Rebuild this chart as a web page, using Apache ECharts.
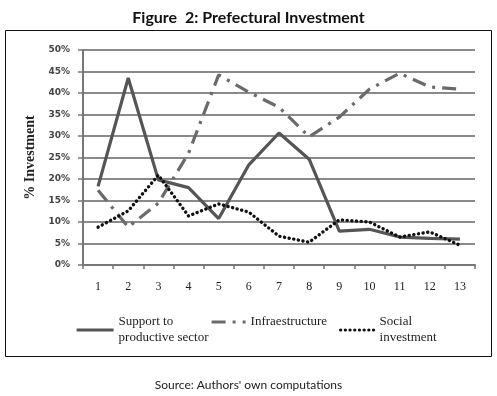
<!DOCTYPE html>
<html><head><meta charset="utf-8">
<script src="https://cdn.jsdelivr.net/npm/echarts@6/dist/echarts.min.js"></script>
<style>html,body{margin:0;padding:0;background:#fff}#c{width:497px;height:396px}</style>
</head><body><div id="c"></div>
<script>
const categories = ['1','2','3','4','5','6','7','8','9','10','11','12','13'];
const supportProductive = [18.3, 43.5, 19.8, 18.0, 10.8, 23.3, 30.7, 24.6, 7.9, 8.3, 6.5, 6.2, 6.0];
const infrastructure = [17.4, 8.8, 14.4, 26.0, 44.2, 40.2, 36.7, 29.8, 34.4, 40.9, 44.6, 41.4, 40.9];
const socialInvestment = [8.8, 12.6, 20.9, 11.4, 14.2, 12.3, 6.7, 5.3, 10.5, 10.0, 6.5, 7.7, 4.6];
const yTicks = [0, 5, 10, 15, 20, 25, 30, 35, 40, 45, 50];
const seriesNames = ['Support to\nproductive sector', 'Infraestructure', 'Social\ninvestment'];

const chart = echarts.init(document.getElementById('c'));
const serif = 'Liberation Serif';
const legendText = {fontFamily: serif, fontSize: 13, color: '#222', lineHeight: 16};
const legendBase = {top: 314, padding: 0, itemHeight: 10, itemStyle: {opacity: 0, borderWidth: 0}, lineStyle: {width: 3.2}, textStyle: legendText};
chart.setOption({
  animation: false,
  title: [{
    text: 'Figure  2: Prefectural Investment', left: 'center', top: 5,
    textStyle: {fontFamily: 'Lato', fontWeight: 'bold', fontSize: 16, color: '#111'}
  }, {
    text: "Source: Authors' own computations", left: 'center', top: 374,
    textStyle: {fontFamily: 'Lato', fontWeight: 'normal', fontSize: 12, color: '#222'}
  }],
  graphic: [{
    type: 'rect', shape: {x: 5.5, y: 30.5, width: 486, height: 326},
    style: {fill: 'none', stroke: '#111', lineWidth: 1}, silent: true
  }],
  grid: {left: 83, right: 22, top: 50, bottom: 131},
  xAxis: {
    type: 'category', data: categories, boundaryGap: true,
    axisLine: {lineStyle: {color: '#777', width: 2}},
    axisTick: {show: true, length: 4, lineStyle: {color: '#777', width: 1.5}},
    axisLabel: {fontFamily: serif, fontSize: 12, color: '#222', margin: 16}
  },
  yAxis: {
    type: 'value', min: 0, max: 50, interval: 5,
    name: '% Investment', nameLocation: 'middle', nameGap: 46, nameRotate: 90,
    nameTextStyle: {fontFamily: serif, fontWeight: 'bold', fontSize: 14, color: '#222'},
    axisLine: {show: true, lineStyle: {color: '#777', width: 2}},
    axisTick: {show: true, length: 5, lineStyle: {color: '#777', width: 1.5}},
    axisLabel: {formatter: v => yTicks.includes(v) ? v + '%' : '', fontFamily: 'DejaVu Sans', fontWeight: 'bold', fontSize: 9, color: '#444', margin: 13},
    splitLine: {lineStyle: {color: '#8a8a8a', width: 2}}
  },
  legend: [
    Object.assign({data: [seriesNames[0]], left: 75, itemWidth: 37}, legendBase),
    Object.assign({data: [seriesNames[1]], left: 210, itemWidth: 34}, legendBase),
    Object.assign({data: [seriesNames[2]], left: 339, itemWidth: 34}, legendBase)
  ],
  series: [{
    name: seriesNames[0], type: 'line', data: supportProductive, symbol: 'none',
    lineStyle: {color: '#555', width: 3.2}, itemStyle: {color: '#555'}
  }, {
    name: seriesNames[1], type: 'line', data: infrastructure, symbol: 'none',
    lineStyle: {color: '#6a6a6a', width: 3.2, type: [14, 7, 3, 7]}, itemStyle: {color: '#6a6a6a'}
  }, {
    name: seriesNames[2], type: 'line', data: socialInvestment, symbol: 'none',
    lineStyle: {color: '#111', width: 3.4, type: [0.1, 4.6], cap: 'round'}, itemStyle: {color: '#111'}
  }]
});
</script></body></html>
